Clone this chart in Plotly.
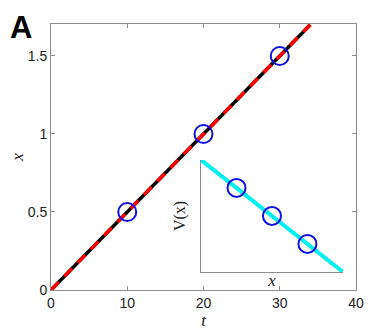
import plotly.graph_objects as go

# main panel: trajectory x(t) and sampled points
t_line = [0, 34]
x_line = [0, 1.7]
t_obs = [10, 20, 30]
x_obs = [0.5, 1.0, 1.5]
t_ticks = [0, 10, 20, 30, 40]
x_ticks = [0, 0.5, 1, 1.5]
x_tick_text = ["0", "0.5", "1", "1.5"]

# inset: potential V(x)
xv_line = [0, 1]
v_line = [1, 0]
xv_obs = [0.25, 0.5, 0.75]
v_obs = [0.75, 0.5, 0.25]

axis_grey = "#8c8c8c"
tick_font = dict(family="Liberation Sans, Arial", size=14, color="#222")
math_font = dict(family="Liberation Serif, DejaVu Serif", size=17, color="#222")

fig = go.Figure()

fig.add_trace(go.Scatter(x=t_line, y=x_line, mode="lines",
                         line=dict(color="black", width=3.5), showlegend=False))
fig.add_trace(go.Scatter(x=t_line, y=x_line, mode="lines",
                         line=dict(color="red", width=3.5, dash="11px,8px"), showlegend=False))
fig.add_trace(go.Scatter(x=t_obs, y=x_obs, mode="markers",
                         marker=dict(symbol="circle-open", size=18, color="#1010e0",
                                     line=dict(width=2)),
                         showlegend=False, cliponaxis=False))

fig.add_trace(go.Scatter(x=xv_line, y=v_line, mode="lines", xaxis="x2", yaxis="y2",
                         line=dict(color="#00f0f0", width=4), showlegend=False))
fig.add_trace(go.Scatter(x=xv_obs, y=v_obs, mode="markers", xaxis="x2", yaxis="y2",
                         marker=dict(symbol="circle-open", size=18, color="#1010e0",
                                     line=dict(width=2)),
                         showlegend=False, cliponaxis=False))

# the page body adds 8px around the figure, so the figure is 8px smaller
fig.update_layout(
    width=384, height=324,
    margin=dict(l=43, r=36, t=16, b=42),
    plot_bgcolor="white", paper_bgcolor="white",
    xaxis=dict(range=[0, 40], tickvals=t_ticks, ticks="inside", ticklen=4,
               tickcolor=axis_grey, showline=True, linecolor=axis_grey, linewidth=1,
               mirror="ticks", showgrid=False, zeroline=False, tickfont=tick_font,
               automargin=False,
               title=dict(text="<i>t</i>", font=math_font, standoff=2)),
    yaxis=dict(range=[0, 1.705], tickvals=x_ticks, ticktext=x_tick_text, ticks="inside",
               ticklen=4, tickcolor=axis_grey, showline=True, linecolor=axis_grey,
               linewidth=1, mirror="ticks", showgrid=False, zeroline=False,
               tickfont=tick_font, automargin=False,
               title=dict(text="<i>x</i>", font=math_font, standoff=7)),
    xaxis2=dict(domain=[0.492, 0.957], anchor="y2", range=[0, 1], showticklabels=False,
                ticks="", showline=True, linecolor=axis_grey, linewidth=1,
                showgrid=False, zeroline=False, automargin=False,
                title=dict(text="<i>x</i>", font=math_font, standoff=2)),
    yaxis2=dict(domain=[0.068, 0.489], anchor="x2", range=[0, 1], showticklabels=False,
                ticks="", showline=True, linecolor=axis_grey, linewidth=1,
                showgrid=False, zeroline=False, automargin=False,
                title=dict(text="V(x)", font=dict(family="Liberation Serif, DejaVu Serif",
                                                  size=16, color="#222"), standoff=10)),
)

# panel letter at the top-left corner of the figure
fig.add_annotation(text="<b>A</b>", xref="paper", yref="paper",
                   x=-43 / 305, y=1 + 16 / 266,
                   xanchor="left", yanchor="top", showarrow=False,
                   font=dict(family="Liberation Sans, Arial", size=31, color="black"))

fig.write_html("out.html")
